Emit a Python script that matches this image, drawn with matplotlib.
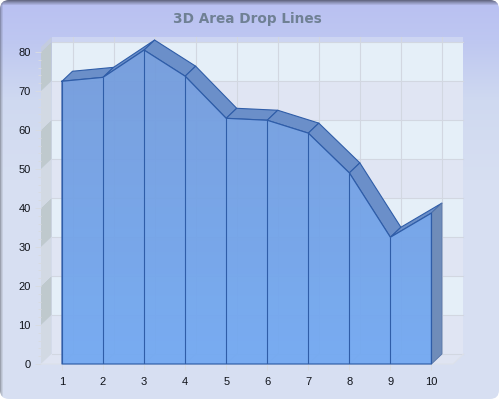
import numpy as np
import matplotlib
matplotlib.use("Agg")
import matplotlib.pyplot as plt
from matplotlib.patches import Polygon, FancyBboxPatch
from matplotlib.ticker import MultipleLocator

categories = [1, 2, 3, 4, 5, 6, 7, 8, 9, 10]
values = [72.5, 73.5, 80.5, 73.8, 63.0, 62.5, 59.2, 49.0, 32.5, 38.7]
title = "3D Area Drop Lines"

W, H = 500, 400
plt.rcParams['font.family'] = ['Liberation Sans', 'DejaVu Sans']
fig = plt.figure(figsize=(5, 4), dpi=100, facecolor='white')

# ---- background panel with gradient and inner shadow
bg = fig.add_axes([0, 0, 1, 1])
bg.set_xlim(0, W); bg.set_ylim(H, 0); bg.axis('off')
yy, xx = np.mgrid[0:H, 0:W]
stops_y = [0, 40, 100, 180, 400]
top = np.array([0xb9, 0xc0, 0xf1]); mid = np.array([0xbe, 0xc7, 0xf1])
m2 = np.array([0xcf, 0xd9, 0xf0]); m3 = np.array([0xd7, 0xdf, 0xf2]); bot = np.array([0xd8, 0xe0, 0xf2])
img = np.zeros((H, W, 3))
for c in range(3):
    img[..., c] = np.interp(yy, stops_y, [top[c], mid[c], m2[c], m3[c], bot[c]])
shade_top = np.interp(yy, [0, 2, 5], [0.55, 0.75, 1.0])
shade_left = np.interp(xx, [0, 1, 3], [0.72, 0.85, 1.0])
shade = shade_top * shade_left
img = np.clip(img * shade[..., None], 0, 255) / 255
im = bg.imshow(img, extent=(0, W, H, 0), aspect='auto', zorder=1, interpolation='nearest')
clip = FancyBboxPatch((0, 0), W - 1, H - 1, boxstyle="round,pad=0,rounding_size=9",
                      transform=bg.transData, fc='none', ec='none')
bg.add_patch(clip)
im.set_clip_path(clip)
bg.set_xlim(0, W); bg.set_ylim(H, 0)
bg.text(247, 18.5, title, ha='center', va='center', fontsize=9.8, fontweight='bold',
        color='#6f8094', family=['DejaVu Sans'], zorder=3)

# ---- main axes: front plane
L, R, T, B = 41, 453, 47, 364
ax = fig.add_axes([L / W, 1 - B / H, (R - L) / W, (B - T) / H])
ax.patch.set_alpha(0)
for s in ax.spines.values():
    s.set_visible(False)
pxx = 41.05   # pixels per category
pxy = 3.9     # pixels per y-unit
ax.set_xlim(1 - (62 - L) / pxx, 1 - (62 - L) / pxx + (R - L) / pxx)
ax.set_ylim(0, (B - T) / pxy)
x0, x1 = ax.get_xlim()
y0, y1 = ax.get_ylim()
dx, dy = 10.5 / pxx, 10 / pxy   # depth offset

def poly(pts, z, **kw):
    p = Polygon(pts, closed=True, zorder=z, clip_on=False, **kw)
    ax.add_patch(p)
    return p

# back wall + left wall bands
bands = list(range(0, 80, 10))
wall_cols = ['#e0e5f3', '#e5eff8']
side_cols = ['#d2d9e3', '#bfc9cd']
for i, b in enumerate(bands):
    t = b + 10
    poly([(x0 + dx, b + dy), (x1 + dx, b + dy), (x1 + dx, t + dy), (x0 + dx, t + dy)], 1,
         fc=wall_cols[i % 2], ec='none')
    poly([(x0, b), (x0 + dx, b + dy), (x0 + dx, t + dy), (x0, t)], 1,
         fc=side_cols[i % 2], ec='none')
poly([(x0 + dx, 80 + dy), (x1 + dx, 80 + dy), (x1 + dx, y1 + dy), (x0 + dx, y1 + dy)], 1,
     fc='#cdd5f2', ec='none')
poly([(x0, 80), (x0 + dx, 80 + dy), (x0 + dx, y1 + dy), (x0, y1)], 1, fc='#c4ccdf', ec='none')
poly([(x0, 0), (x1, 0), (x1 + dx, dy), (x0 + dx, dy)], 1, fc='#dfe4f2', ec='none')

# grid on back wall, side wall and floor
gc = '#d2d7e1'
for b in list(range(0, 90, 10)):
    ax.plot([x0 + dx, x1 + dx], [b + dy, b + dy], color=gc, lw=0.8, zorder=2, clip_on=False)
for c in categories:
    ax.plot([c + dx, c + dx], [dy, y1 + dy], color=gc, lw=0.8, zorder=2, clip_on=False)
    ax.plot([c, c + dx], [0, dy], color=gc, lw=0.8, zorder=2, clip_on=False)
ax.plot([x0, x1, x1 + dx], [0, 0, dy], color='#dde1ea', lw=0.8, zorder=2, clip_on=False)

# ---- 3D area
edge = '#2f5da8'
xs = np.array(categories, float)
ys = np.array(values, float)
for i in range(len(xs) - 1):
    poly([(xs[i], ys[i]), (xs[i + 1], ys[i + 1]), (xs[i + 1] + dx, ys[i + 1] + dy), (xs[i] + dx, ys[i] + dy)],
         3, fc='#6b8fc9', ec=edge, lw=0.8, joinstyle='round')
poly([(xs[-1], 0), (xs[-1] + dx, dy), (xs[-1] + dx, ys[-1] + dy), (xs[-1], ys[-1])], 3,
     fc='#6f8cb9', ec='#5574a8', lw=0.6)

# front face with vertical gradient
grad = np.zeros((256, 1, 4))
grad[..., 0] = np.linspace(0x72, 0x70, 256)[:, None] / 255
grad[..., 1] = np.linspace(0x9a, 0xa8, 256)[:, None] / 255
grad[..., 2] = np.linspace(0xdb, 0xf2, 256)[:, None] / 255
grad[..., 3] = 0.93
front = np.column_stack([np.r_[xs, xs[-1], xs[0]], np.r_[ys, 0, 0]])
fim = ax.imshow(grad, extent=(xs[0], xs[-1], 0, ys.max()), origin='upper', aspect='auto',
                zorder=4, interpolation='bilinear')
fp = Polygon(front, closed=True, transform=ax.transData, fc='none', ec='none')
ax.add_patch(fp)
fim.set_clip_path(fp)
ax.set_xlim(x0, x1); ax.set_ylim(y0, y1)
ax.plot(np.r_[xs, xs[-1], xs[0], xs[0]], np.r_[ys, 0, 0, ys[0]], color=edge, lw=0.85, zorder=5, clip_on=False)
ax.vlines(xs, 0, ys, color=edge, lw=0.8, zorder=5)

# ticks
ax.set_xticks(categories)
ax.set_yticks(range(0, 90, 10))
ax.yaxis.set_minor_locator(MultipleLocator(2))
ax.tick_params(axis='both', which='major', length=4.3, width=0.7, color='#d8dbe2', labelsize=8,
               labelcolor='#10131a', pad=3)
ax.tick_params(axis='y', which='minor', length=2.2, width=0.7, color='#d8dbe2')
ax.tick_params(axis='x', pad=5)
for lab in ax.get_xticklabels() + ax.get_yticklabels():
    lab.set_fontfamily(['Liberation Sans'])

fig.savefig('out.png', dpi=100, facecolor='white')
